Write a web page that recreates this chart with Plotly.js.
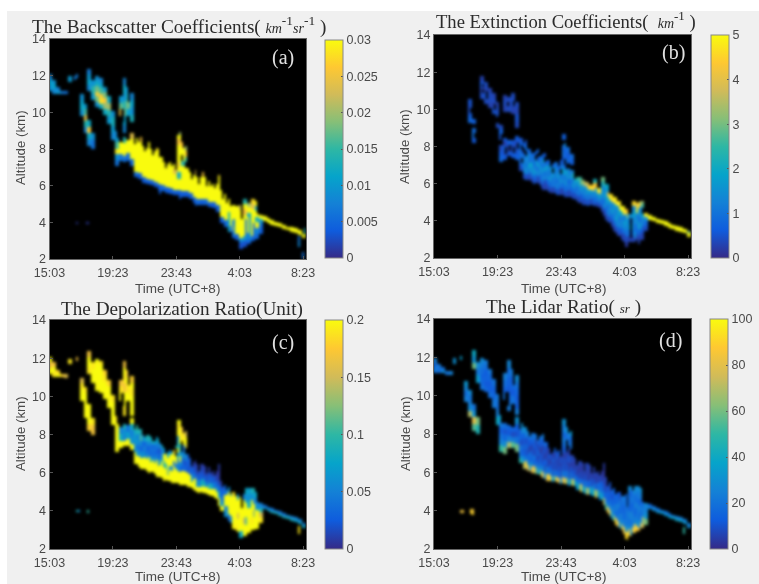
<!DOCTYPE html>
<html><head><meta charset="utf-8">
<script src="https://cdn.plot.ly/plotly-3.0.1.min.js"></script>
<style>html,body{margin:0;padding:0;background:#f0f0f0}
#chart{filter:blur(0.4px)}
#chart .heatmaplayer{filter:blur(1.1px)}
#chart image{filter:blur(1.1px)}</style></head>
<body><div id="chart" style="width:759px;height:584px"></div>
<script>
const o = null;
const tickMinutes = [0,260,520,780,1040];
const tickTimes = ['15:03','19:23','23:43','4:03','8:23'];
const altitudeTicks = [2,4,6,8,10,12,14];
const columnStepMinutes = 8;
// rows: [time column, base km, top km, [values bottom to top]]; .25/.75 columns touch only one half of the column
const backscatter = [ // x 1e-3
[0,11.2,12.1,[9,11,8]],[1,11.05,11.8,[8,11,9]],[2,11.05,11.4,[10,7]],[3,11.05,11.2,[7]],[4,11.0,11.2,[6]],
[5,11.7,12.0,[10]],[6.75,11.8,12.0,[7]],[7.25,11.9,12.1,[7]],[7.25,3.95,4.05,[1]],[9.75,3.95,4.05,[1]],[10.25,3.95,4.05,[1]],
[8,9.8,11,[9,12,11,9]],[9,8.9,10.5,[8,14,24,16,10]],[10,8.2,9.6,[8,12,26,12]],[10,11.2,12.4,[8,11,10,7]],
[11,8,8.9,[6,9]],[11,10.7,11.8,[10,14,9]],
[12,10.3,12,[9,18,27,18,12,9]],[13,10.2,11.9,[12,28,26,16,11,8]],[14,9.9,11.4,[12,20,26,18,10]],
[15,9.4,10.9,[10,14,20,12]],[16,8.5,10.1,[8,10,13,9]],[17,7.1,9,[6,9,29,16,10,8]],
[18,7.4,8.4,[6,30,30]],[18,9.8,10.9,[24,17,10]],[19,7.3,8.7,[6,30,30,14]],[19,8.9,11.9,[8,11,18,14,9,12,8]],
[20,7.4,8.5,[5,30,30]],[20,9.8,11.4,[11,18,13,9]],[21,7.1,8.9,[5,30,30,30,24]],[21,9.5,11.1,[13,9,11,8]],
[22,6.5,8.6,[5,30,30,30,30,30,30]],[23,6.4,8.4,[4,30,30,30,30,30,30]],[24,6.2,8.2,[4,30,30,30,30,30,30]],
[25,6.1,8.1,[4,30,30,30,30,30,30]],[26,6.05,8.0,[4,30,30,30,30,30,30]],[27,5.95,7.9,[4,30,30,30,30,30,30]],
[28,5.8,8.0,[4,30,30,30,30,30,30,30]],[29,5.75,7.6,[5,30,30,30,30,30,30]],[30,5.65,7.0,[4,30,30,30,30]],
[31,5.6,7.3,[4,30,30,30,30,30]],[32,5.5,7.2,[4,30,30,30,24,30]],[33,5.5,8.8,[4,30,30,12,30,28,30,30,30,26,30]],
[34,5.4,8.4,[4,30,30,30,30,14,30,30,26]],[35,5.4,8.2,[4,30,30,30,30,o,14,26,20]],[36,5.3,6.8,[4,30,30,30,30]],
[37,5.1,6.6,[4,30,30,30,30]],[38,5.0,6.5,[5,30,30,30,30]],[39,5.0,6.5,[4,30,30,30,30]],[40,4.95,6.5,[5,30,30,30,30]],
[41,4.85,6.3,[4,30,30,30,30]],[42,4.8,6.1,[4,30,30,30]],[43,4.6,6.5,[4,30,30,30,30,30]],[44,4.0,5.8,[4,30,30,30,30,30]],
[45,3.8,5.6,[5,30,30,30,30,30]],[46,3.5,5.3,[4,30,30,30,30,30]],[47,3.2,5.0,[5,30,8,30,30,30]],[48,3.05,4.9,[4,30,30,30,30,30]],
[49,2.6,5.0,[3,9,30,30,30,30,30,22]],[50,2.7,5.3,[3,9,30,30,30,30,26,30,14]],[51,2.85,5.1,[4,8,30,30,30,12,30,20]],
[52,3.0,5.3,[4,30,30,30,30,30,24,28]],[53,3.1,5.2,[5,8,30,12,30,12,30]],[54,3.4,4.45,[4,5,9,30]],
[55,4.08,4.31,[30]],[56,3.98,4.21,[30]],[57,3.88,4.11,[30]],[58,3.81,4.04,[30]],[59,3.73,3.96,[30]],[60,3.63,3.86,[30]],
[61,3.56,3.79,[30]],[62,3.48,3.71,[30]],[63,3.43,3.66,[30]],[64,3.33,3.56,[30]],[64.25,2.7,3.3,[8,6]],[65,3.13,3.4,[30]],[65.75,3.4,3.7,[14]],[65.25,2.05,2.4,[6]],
// spikes and dark streaks
[23.75,8.4,8.7,[26]],[25.75,8.1,8.4,[30]],[27.75,7.9,8.1,[28]],[30.75,7.0,7.2,[30]],[33.75,8.8,8.95,[20]],[37.75,6.6,6.9,[24]],[39.75,6.5,6.8,[26]],[43.75,6.5,6.6,[28]],
[46.25,3.5,4.6,[12]],[47.75,3.3,4.2,[7]],[50.75,3.3,4.2,[6]],[51.75,3.0,4.4,[9]],[52.75,3.1,4.0,[5]],
[28.75,5.6,5.8,[4]],[33.75,5.3,5.5,[4]],[37.75,4.9,5.1,[4]]
];
const extinction = [
[9,9.3,10.6,[.8,.5,.4,.5]],[10,8.2,9.5,[.6,1,.9,o,.7]],
[12,10.6,11.8,[.4,.3,.5,.3]],[13,10.3,11.5,[.4,.5,.3,.4]],[14,10.1,11.2,[.3,.4,.4,.3]],[15,9.8,10.9,[.5,.3,.4,.3]],
[16,9,10.4,[.4,o,.5,.4,.3]],[17,7.2,9.2,[.8,.6,.4,o,.5,.7,.4]],[18,7.3,8.5,[.6,.4,.7,.3,.6]],[18,9.9,10.8,[.3,.4,.3]],
[19,7.5,8.4,[.5,.3,.7]],[19,9.9,10.7,[.4,.3,.4]],[20,7.4,8.4,[.6,.4,.5]],[20,9.8,10.9,[.3,.5,.4]],
[21,7.3,8.6,[.7,.5,.4,.6]],[21,9.0,10.4,[.4,.5,.3,.4]],[22,6.7,8.5,[.4,.9,.8,1,.7,.5]],[23,6.3,8.2,[.4,1.2,1.5,1.1,.8,o,.7]],
[24,6.2,7.9,[.3,1,1.6,1.3,1.4,.8]],[25,6.1,7.7,[.3,1.1,1.5,1.8,1,.8]],[26,6.05,7.8,[.4,.9,1.3,1.1,1.5,o,.7]],
[27,5.95,7.5,[.3,.8,1.3,1.6,1.2,.9]],[28,5.7,7.6,[.3,.9,1.2,1.5,1.1,1.6,.7]],[29,5.7,7.3,[.3,.7,1.1,1.4,1.7,.8]],
[30,5.5,6.9,[.3,.8,1.4,1.2,1.6]],[31,5.5,7.2,[.4,.9,1.3,1,1.5,.9]],[32,5.4,7.0,[.4,.8,1.1,1.6,1.3,.7]],
[33,5.4,8.7,[.3,.7,1.2,1.5,1.8,.9,.6,1,.8,o,.7]],[34,5.3,8.0,[.4,.8,1.1,1.5,1.7,o,.8,.6,.9]],[35,5.3,7.6,[.4,.7,1,1.5,1.2,o,.7,.9]],
[36,5.2,6.3,[.4,.9,1.3,1.9]],[37,5.0,6.4,[.3,.9,1.2,1.7,2.6]],[38,4.9,6.2,[.4,.8,1.3,1.6,3.2]],[39,4.9,6.1,[.4,.9,1.4,1.7,3.6]],
[40,4.9,5.95,[.4,1.1,1.6,4.6]],[41,4.8,6.3,[.4,.9,1.3,1.7,4.4,2.2]],[42,4.75,5.8,[.4,1.2,1.6,4.8]],[43,4.5,6.4,[.3,.9,1.2,1.6,1.8,3]],
[44,4.1,6.0,[.3,.7,1.3,1.7,1.5,1.9]],[45,3.9,5.45,[.4,1,1.3,1.6,4.8]],[46,3.5,5.3,[.3,.9,1.2,1.4,1.6,4.8]],
[47,3.2,5.1,[.3,.8,1.3,1.5,1.7,1.3,4.8]],[48,3.0,4.8,[.3,.7,1,1.4,1.7,4.9]],[49,2.6,4.65,[.2,.4,.9,1.4,1.7,1.6,4.4]],
[50,2.9,4.4,[.3,.8,1.7,1,1.4]],[51,2.9,5.1,[.3,.8,1.5,1.2,1.7,1.3,4.6]],[52,3.0,5.0,[.3,.7,1.2,1.6,1.3,4.8,4.2]],
[53,3.0,5.1,[.3,.6,1.4,1.1,1.7,1.3,3.4]],[54,3.5,4.45,[.4,.8,1.4,4.8]],
[55,4.08,4.31,[5]],[56,3.98,4.21,[5]],[57,3.88,4.11,[5]],[58,3.81,4.04,[5]],[59,3.73,3.96,[5]],[60,3.63,3.86,[5]],
[61,3.56,3.79,[5]],[62,3.48,3.71,[5]],[63,3.43,3.66,[5]],[64,3.33,3.56,[5]],[65,3.15,3.5,[5,3]],
// second half of columns: finer streaks and holes
[9.75,9.6,10.3,[.6,o,.5]],[10.75,8.5,9.2,[o,.8,o]],[12.75,10.9,11.4,[o,.3,o]],[13.75,10.6,11,[o]],[15.75,10,10.3,[o]],[16.75,9.3,9.7,[o]],
[17.75,8.2,8.7,[o]],[18.75,7.6,8,[o]],[19.75,7.8,8.1,[o]],[19.25,10.2,10.4,[o]],[20.75,7.7,8,[o]],[20.75,10.2,10.5,[o]],[21.75,7.9,8.2,[o]],
[22.75,6.9,8.3,[.6,o,1.1,.5,o,.7]],[23.75,6.2,8.4,[.5,1.5,.8,1.3,o,.9,.5]],[24.75,6.3,7.7,[.4,1.4,1.9,.9,1.1]],
[25.75,6.0,7.5,[.5,.8,1.7,1.2,.7,1]],[26.75,6.2,7.9,[.3,1.4,.9,1.7,.6,o,.8]],[27.75,5.8,7.2,[.5,1.2,.9,1.5,.7]],
[28.75,5.9,7.7,[.3,1.3,.8,1.8,.9,o,.6]],[29.75,5.6,7.0,[.4,1,1.6,.9,1.3]],[30.75,5.6,7.1,[.3,1.2,.9,1.7,o,.8]],
[31.75,5.4,6.9,[.5,1.3,.8,1.5,1]],[32.75,5.5,7.3,[.3,1.2,1.5,.8,o,1,.6]],[33.75,5.3,8.2,[.4,1,1.5,.9,1.6,.7,o,.8,.6,1.3]],
[34.75,5.4,7.4,[.3,1.1,.7,1.4,1.1,o,.8]],[35.75,5.2,6.6,[.4,.9,1.6,1.1,2.2]],[36.75,5.1,6.4,[.4,1.2,.9,1.5,2.4]],
[37.75,5.1,6.2,[.5,1.1,1.5,3]],[38.75,4.95,6.1,[.4,1.4,1,3.8]],[39.75,4.85,6.0,[.5,1.1,1.6,4.2]],[41.25,5.0,5.9,[.9,1.4,4.4]],
[42.75,4.7,5.7,[.3,1,1.8,4.5]],[43.75,4.3,6.2,[.3,1.4,.9,1.7,1.1,2.6]],[44.75,3.95,5.6,[.4,1.3,1,1.7,4]],[45.75,3.7,5.35,[.3,.9,1.6,1.2,4.6]],
[46.75,3.4,5.15,[.3,1.1,1.7,1.2,1.6,4.7]],[47.75,3.3,4.9,[.5,1.4,.9,1.7,4.9]],[48.75,2.9,4.7,[.3,1,1.6,.9,4.8]],[49.75,2.8,4.55,[.3,1.2,.8,1.6,4.7]],
[50.75,3.1,4.2,[o]],[51.75,3.1,4.6,[1.6,.7,1.3,1.7]],[52.75,2.8,5.05,[.3,.9,1.6,.8,1.4,4.6]],[53.75,3.4,5.0,[.5,1.2,1.6,o,2.6]]
];
const depolarization = [ // x 1e-3
[0,11.2,12.1,[200,170,200]],[1,11.05,11.8,[190,200,170]],[2,11.05,11.4,[200,180]],[3,11.05,11.2,[180]],[4,11.0,11.2,[160]],
[5,11.7,12.0,[190]],[7.25,11.9,12.1,[170]],[7.25,3.95,4.05,[90]],[7.75,3.95,4.05,[60]],[10.25,3.9,4.05,[100]],
[8,9.8,11,[200,200,190,160]],[9,8.9,10.5,[200,200,200,200,190]],[10,8.2,9.6,[180,200,200,200]],[10,11.2,12.4,[190,200,200,170]],
[11,8,8.9,[170,190]],[11,10.7,11.8,[200,200,190]],
[12,10.3,12,[200,200,200,200,200,200]],[13,10.2,11.9,[200,200,200,200,200,190]],[14,9.9,11.4,[200,200,200,190,180]],
[15,9.4,10.9,[200,200,200,180]],[16,8.5,10.1,[200,200,200,190]],[17,7.1,9,[200,200,200,200,200,190]],
[18,7.3,8.4,[200,80,50]],[18,9.8,10.9,[200,190,170]],[19,7.4,8.6,[200,50,60,90]],[19,9,11.9,[190,200,200,170,190,200,170]],
[20,7.4,8.5,[200,70,40]],[20,9.8,11.4,[200,190,200,170]],[21,7.2,8.9,[200,60,50,80,200]],[21,9.0,11.1,[200,200,200,190,200,180]],
[22,6.5,8.5,[200,200,60,50,70,80,100]],[23,6.3,8.3,[200,200,60,40,50,60,90]],[24,6.2,8.0,[200,200,70,40,30,60]],
[25,6.1,8.0,[200,200,60,30,50,90]],[26,6.05,7.9,[200,200,70,30,40,50,80]],[27,5.95,7.7,[200,200,60,30,40,70]],
[28,5.8,7.8,[200,200,50,30,20,60,90]],[29,5.75,7.5,[200,200,200,60,50,80]],[30,5.65,7.0,[200,200,90,200,200]],
[31,5.6,7.2,[200,200,60,200,200,60]],[32,5.5,7.2,[200,200,200,40,200,190]],[33,5.5,8.8,[200,200,60,40,70,200,90,60,200,190,200]],
[34,5.4,8.4,[200,200,30,40,60,o,200,190,170]],[35,5.4,8.2,[200,200,30,20,60,o,190,200,150]],[36,5.3,6.8,[200,200,30,20,20]],
[37,5.1,6.6,[200,200,40,20,10]],[38,5.0,6.5,[200,60,30,10,10]],[39,5.0,6.5,[200,70,30,20,8]],[40,4.95,6.4,[200,80,30,10,10]],
[41,4.85,6.3,[200,100,40,20,8]],[42,4.8,6.1,[200,60,30,8]],[43,4.65,6.5,[200,60,30,10,5,8]],[44,4.0,5.6,[200,60,40,30,20,10]],
[45,3.7,5.4,[60,50,200,200,40,30]],[46,3.5,5.3,[40,200,200,200,200,60]],[47,3.1,5.0,[200,200,200,200,200,200,190]],
[48,3.0,4.8,[190,200,200,200,200,200]],[49,2.6,4.75,[80,200,200,200,200,200,200]],[50,2.7,4.9,[200,200,150,200,200,200,50]],
[51,2.85,5.2,[200,200,200,200,80,60,70]],[52,3.0,5.2,[200,190,200,200,200,60,90]],[53,3.1,5.0,[200,200,200,60,50,80]],
[54,3.4,4.45,[190,150,90,50]],
[55,4.08,4.31,[80,40]],[56,3.98,4.21,[80,40]],[57,3.88,4.11,[90,40]],[58,3.81,4.04,[90,40]],[59,3.73,3.96,[90,40]],[60,3.63,3.86,[90,40]],
[61,3.56,3.79,[90,50]],[62,3.48,3.71,[90,50]],[63,3.43,3.66,[80,50]],[64,3.33,3.56,[80,50]],[64.25,2.8,3.25,[190]],[65,3.13,3.4,[80,40]],
// second half of columns
[22.75,6.6,8.3,[200,60,40,70,50,90]],[23.75,6.2,8.0,[200,200,50,30,60,110]],[24.75,6.3,7.9,[200,200,40,50,30,70]],
[25.75,6.0,7.7,[200,200,200,40,30,60]],[26.75,6.1,7.8,[200,200,50,40,30,90]],[27.75,5.8,7.9,[200,200,200,50,30,40,70]],
[28.75,5.85,7.6,[200,200,70,30,20,50]],[29.75,5.6,7.3,[200,200,90,200,60]],[30.75,5.6,7.1,[200,120,200,200,70]],
[31.75,5.5,7.0,[200,200,50,200,200]],[32.75,5.55,7.4,[200,200,40,200,200,90]],[33.75,5.4,8.4,[200,200,30,60,200,60,90,200,190,200]],
[34.75,5.4,7.5,[200,200,30,20,50,40]],[35.75,5.3,7.0,[200,200,20,30,20]],[36.75,5.2,6.5,[200,60,30,15]],
[37.75,5.05,6.7,[200,200,30,15,8]],[38.75,4.95,6.3,[200,50,20,8]],[39.75,4.95,6.4,[200,90,20,10]],[40.75,4.9,6.2,[200,40,15,8]],
[41.75,4.8,6.2,[200,80,20,6]],[42.75,4.7,5.9,[200,40,15]],[43.75,4.3,6.1,[200,70,30,8,5]],
[46.75,3.4,5.1,[50,200,200,200,60]],[48.75,2.9,4.9,[200,200,150,200,200,60]],[50.75,2.9,5.2,[200,110,200,200,60,80]],[52.75,3.05,5.0,[200,200,130,200,50,70]]
];
const lidarRatio = [
[0,11.2,12.0,[22,16,25]],[1,11.2,11.7,[18,22]],[2,11.2,11.5,[28,18]],[3,11.1,11.3,[20]],[4,11.1,11.3,[25]],
[5,11.7,12.0,[30]],[7.25,11.9,12.1,[35]],[7.25,3.9,4.05,[80]],[7.75,3.9,4.05,[88]],[9.75,3.85,4.1,[90]],[10.25,3.8,4.1,[90,85]],
[8,9.7,10.8,[24,18,26,32]],[9,8.9,10.3,[70,28,24,20,28]],[10,8.2,9.6,[55,80,30,20]],[10,11.4,12.4,[60,30,40]],
[11,8,8.9,[45,60]],[11,10.7,11.8,[34,22,28]],
[12,10.3,12,[20,16,14,18,22,28]],[13,10.2,11.9,[16,12,15,13,18,22]],[14,9.9,11.4,[18,13,12,16,22]],
[15,9.4,10.9,[22,16,14,20]],[16,8.5,10.1,[40,24,18,22]],[17,7.1,9,[50,25,20,14,22,35]],
[18,7.0,8.6,[60,28,16,10,18]],[18,9.8,11.2,[20,14,18,24]],[19,7.3,8.5,[70,24,12,16]],[19,9.2,11.9,[22,16,12,14,18,26]],
[20,7.3,8.4,[55,22,8,14]],[20,9.6,11.4,[20,12,16,14,24]],[21,7.1,8.9,[60,20,10,14,30]],[21,9.0,11.1,[24,14,12,16,20,28]],
[22,6.5,8.6,[50,24,14,10,16,12,30]],[23,6.2,8.4,[70,28,16,10,12,14,28]],[24,6.1,8.2,[80,25,14,8,10,12,24]],
[25,6.0,8.1,[75,28,14,10,6,12,20]],[26,5.95,8.0,[60,24,12,8,10,6,20]],[27,5.9,7.9,[50,22,14,8,5,10,18]],
[28,5.75,8.0,[75,26,12,6,8,5,12,24]],[29,5.6,7.6,[80,24,10,6,5,12]],[30,5.55,7.0,[70,25,12,5,8]],
[31,5.55,7.3,[60,22,10,6,5,14]],[32,5.45,7.2,[75,20,12,5,4,12]],[33,5.45,8.8,[80,26,14,6,5,10,16,24,18,22,30]],
[34,5.4,8.4,[60,24,12,5,6,o,18,22,30]],[35,5.35,8.2,[50,22,12,5,4,o,20,16,34]],[36,5.3,6.8,[40,20,10,5,4]],
[37,5.1,6.6,[45,22,8,4,6]],[38,5.0,6.5,[40,20,8,5,4]],[39,4.9,6.5,[55,22,10,4,6]],[40,4.9,6.4,[40,18,8,4,5]],
[41,4.8,6.3,[50,24,10,4,5]],[42,4.75,6.1,[45,20,6,4]],[43,4.6,6.5,[40,20,14,4,3,4]],[44,4.05,5.8,[55,24,14,8,5,6]],
[45,3.75,5.5,[70,26,18,12,8,10]],[46,3.5,5.2,[60,24,20,16,12,14]],[47,3.15,5.0,[75,22,20,24,18,12]],[48,3.0,4.8,[70,25,22,20,16,22]],
[49,2.55,4.9,[90,30,24,20,22,18,16]],[50,2.7,5.3,[85,28,22,24,18,16,20,28]],[51,2.85,5.1,[80,26,24,22,16,22,24]],
[52,2.95,5.3,[85,30,24,20,24,18,22,28]],[53,3.1,5.2,[75,26,18,22,16,24,30]],[54,3.3,4.45,[60,30,24,28]],
[55,4.08,4.31,[28,16]],[56,3.98,4.21,[30,20]],[57,3.88,4.11,[32,20]],[58,3.81,4.04,[34,22]],[59,3.73,3.96,[34,20]],[60,3.63,3.86,[36,20]],
[61,3.56,3.79,[40,22]],[62,3.48,3.71,[42,24]],[63,3.43,3.66,[38,24]],[64,3.33,3.56,[34,24]],[64.25,2.8,3.2,[50]],[65,3.08,3.4,[30,24]],
// second half of columns
[22.75,6.6,8.3,[30,12,22,8,14,26]],[23.75,6.3,8.1,[90,20,10,18,8,24]],[24.75,6.15,8.0,[30,14,20,6,12,22]],
[25.75,6.0,7.9,[85,12,22,8,14,20]],[26.75,6.0,7.8,[26,10,6,16,8,18]],[27.75,5.8,7.6,[80,16,8,14,4,16]],
[28.75,5.7,7.7,[28,8,14,5,10,20]],[29.75,5.6,7.3,[90,14,5,10,6]],[30.75,5.5,7.1,[30,10,6,14,5]],
[31.75,5.5,7.0,[85,12,5,8,14]],[32.75,5.4,7.1,[28,8,4,10,6]],[33.75,5.4,8.4,[80,14,5,10,4,14,22,12,26]],
[34.75,5.3,7.3,[26,8,3,12,5]],[35.75,5.3,6.9,[85,10,4,8]],[36.75,5.1,6.6,[30,12,4,6]],
[37.75,5.0,6.4,[85,14,6,3]],[38.75,4.9,6.3,[26,10,4,8]],[39.75,4.85,6.2,[75,12,3,6]],[40.75,4.8,6.1,[30,8,5]],
[41.75,4.7,6.2,[80,10,4,8]],[42.75,4.6,5.9,[26,14,6]],[43.75,4.3,6.1,[70,16,8,5,3]],[44.75,3.9,5.3,[85,20,12,16,10]],
[45.75,3.6,5.2,[30,24,14,10,16]],[46.75,3.3,5.0,[90,16,22,14,18]],[47.75,3.1,4.9,[30,24,14,20,10]],[48.75,2.8,4.6,[85,22,16,12,20]],
[49.75,2.5,4.7,[95,26,16,20,12,18]],[50.75,2.75,5.1,[30,18,24,14,20,12]],[51.75,2.9,5.3,[90,22,14,24,18,28]],[52.75,3.1,5.0,[28,18,24,16,22]],[53.75,3.3,4.9,[70,24,18,28]]
];
// black notches along the cloud top, shared by panels a, c, d
const edgeNotches = [
[17.75,8.6,9.1],[18.75,9.8,10.2],[19.25,9.5,10.2],[20.75,10.6,11.5],[22.25,8.3,8.7],[24.75,7.9,8.3],[26.75,7.7,8.1],[28.75,7.6,8.1],
[29.75,7.3,7.7],[31.75,7.1,7.4],[32.75,6.9,7.3],[34.25,7.4,7.7],[34.75,8.1,8.5],[35.75,7.0,8.3],[36.25,6.9,7.2],[36.75,6.4,6.9],
[38.75,6.1,6.6],[40.75,6.0,6.6],[41.75,6.0,6.4],[42.75,5.9,6.2],[43.25,6.1,6.6],[44.75,5.3,5.9],[45.75,5.1,5.7],[46.75,4.9,5.4],[49.75,4.2,5],[53.75,4.5,5.3]
];
const parula = ['#352a87','#0f5cdd','#1481d6','#06a4ca','#2eb7a4','#87bf77','#d1bb59','#fec832','#f9fb0e'];
const cbTicks = {
  a:{vals:[0,.005,.01,.015,.02,.025,.03],text:['0','0.005','0.01','0.015','0.02','0.025','0.03']},
  b:{vals:[0,1,2,3,4,5],text:['0','1','2','3','4','5']},
  c:{vals:[0,.05,.1,.15,.2],text:['0','0.05','0.1','0.15','0.2']},
  d:{vals:[0,20,40,60,80,100],text:['0','20','40','60','80','100']}
};
const W=759,H=584;
const ROWS=241, COLS=132;
function grid(rows,scale,notches){
  const z=[];for(let r=0;r<ROWS;r++)z.push(new Array(COLS).fill(null));
  rows.forEach(([c,b,t,vals])=>{
    const f=Math.floor(c), cells=c===f?[2*f,2*f+1]:(c-f<.5?[2*f]:[2*f+1]);
    for(let r=0;r<ROWS;r++){
      const y=2+r*0.05;
      if(y<b||y>=t)continue;
      const v=vals[Math.min(vals.length-1,Math.floor((y-b)/(t-b)*vals.length))];
      cells.forEach(k=>{z[r][k]=v===null?null:v*scale;});
    }
  });
  (notches||[]).forEach(([c,b,t])=>{
    const f=Math.floor(c), k=c-f<.5?2*f:2*f+1;
    for(let r=0;r<ROWS;r++){const y=2+r*0.05; if(y>=b&&y<t)z[r][k]=null;}
  });
  return z;
}
const xs=[...Array(COLS).keys()].map(i=>i*columnStepMinutes);
const ys=[...Array(ROWS).keys()].map(i=>2+i*0.05);
const panels=[
 {z:grid(backscatter,.001,edgeNotches),max:.03,t:cbTicks.a,box:[49.5,306,39,259],cb:[325,40,218]},
 {z:grid(extinction,1),max:5,t:cbTicks.b,box:[434,691,35,258],cb:[711,35,223]},
 {z:grid(depolarization,.001,edgeNotches),max:.2,t:cbTicks.c,box:[49.5,306,320,549],cb:[325,320,229]},
 {z:grid(lidarRatio,1,edgeNotches),max:100,t:cbTicks.d,box:[434,691,319,549],cb:[710,319,230]}
];
const tickFont={family:'"Liberation Sans",Arial,sans-serif',size:12.5,color:'#4a4a4a'};
const layout={width:W,height:H,margin:{l:0,r:0,t:0,b:0},paper_bgcolor:'#f0f0f0',plot_bgcolor:'#000',showlegend:false,
 shapes:[
  {type:'rect',xref:'paper',yref:'paper',x0:0,x1:1,y0:1-11/H,y1:1,fillcolor:'#fff',line:{width:0},layer:'below'},
  {type:'rect',xref:'paper',yref:'paper',x0:0,x1:7/W,y0:0,y1:1,fillcolor:'#fff',line:{width:0},layer:'below'}
 ],annotations:[]};
const traces=panels.map((p,i)=>{
  const n=i===0?'':String(i+1);
  const [l,r,t,b]=p.box;
  layout['xaxis'+n]={domain:[l/W,r/W],range:[0,1052],tickvals:tickMinutes,ticktext:tickTimes,ticks:'inside',ticklen:3,tickcolor:'#555',
    tickfont:tickFont,anchor:'y'+n,showgrid:false,zeroline:false,showline:true,linecolor:'#666',linewidth:1,mirror:true,ticklabelstandoff:2};
  layout['yaxis'+n]={domain:[1-b/H,1-t/H],range:[2,14],tickvals:altitudeTicks,ticks:'inside',ticklen:3,tickcolor:'#555',
    tickfont:tickFont,anchor:'x'+n,showgrid:false,zeroline:false,showline:true,linecolor:'#666',linewidth:1,mirror:true};
  return {type:'heatmap',x:xs,y:ys,z:p.z,xaxis:'x'+n,yaxis:'y'+n,zmin:0,zmax:p.max,zsmooth:false,hoverongaps:false,
    colorscale:parula.map((c,k)=>[k/8,c]),
    colorbar:{x:p.cb[0]/W,xanchor:'left',y:1-p.cb[1]/H,yanchor:'top',thickness:18,thicknessmode:'pixels',len:p.cb[2],lenmode:'pixels',
      xpad:0,ypad:0,outlinewidth:1,outlinecolor:'#888',tickmode:'array',tickvals:p.t.vals,ticktext:p.t.text,ticks:'inside',ticklen:2,tickcolor:'#555',
      tickfont:tickFont}};
});
const serif='"Liberation Serif","Times New Roman",serif';
function note(text,x,y,size,color,family,extra){
  layout.annotations.push(Object.assign({text,x:x/W,y:1-y/H,xref:'paper',yref:'paper',showarrow:false,xanchor:'left',yanchor:'middle',
    font:{family,size,color}},extra||{}));
}
note('The Backscatter Coefficients( <i><span style="font-size:14px">km</span></i><sup>-1</sup><i><span style="font-size:14px">sr</span></i><sup>-1</sup> )',30,26,19.2,'#2b2b2b',serif);
note('The Extinction Coefficients(  <i><span style="font-size:14px">km</span></i><sup>-1</sup> )',434,21,18.6,'#2b2b2b',serif);
note('The Depolarization Ratio(Unit)',59,309,19.2,'#2b2b2b',serif);
note('The Lidar Ratio( <i><span style="font-size:13px">sr</span></i> )',484,307,19.2,'#2b2b2b',serif);
[['(a)',283,57],['(b)',673,52],['(c)',283,342],['(d)',670,340]].forEach(a=>note(a[0],a[1],a[2],20,'#e0e0e0',serif,{xanchor:'center'}));
const sans='"Liberation Sans",Arial,sans-serif';
[[20,148],[405,147],[20,434],[405,434]].forEach(a=>note('Altitude (km)',a[0],a[1],13.3,'#4a4a4a',sans,{xanchor:'center',textangle:-90}));
[[177,288],[563,288],[177,576],[563,576]].forEach(a=>note('Time (UTC+8)',a[0],a[1],13.5,'#4a4a4a',sans,{xanchor:'center'}));
Plotly.newPlot('chart',traces,layout,{displayModeBar:false,staticPlot:true});
</script></body></html>
